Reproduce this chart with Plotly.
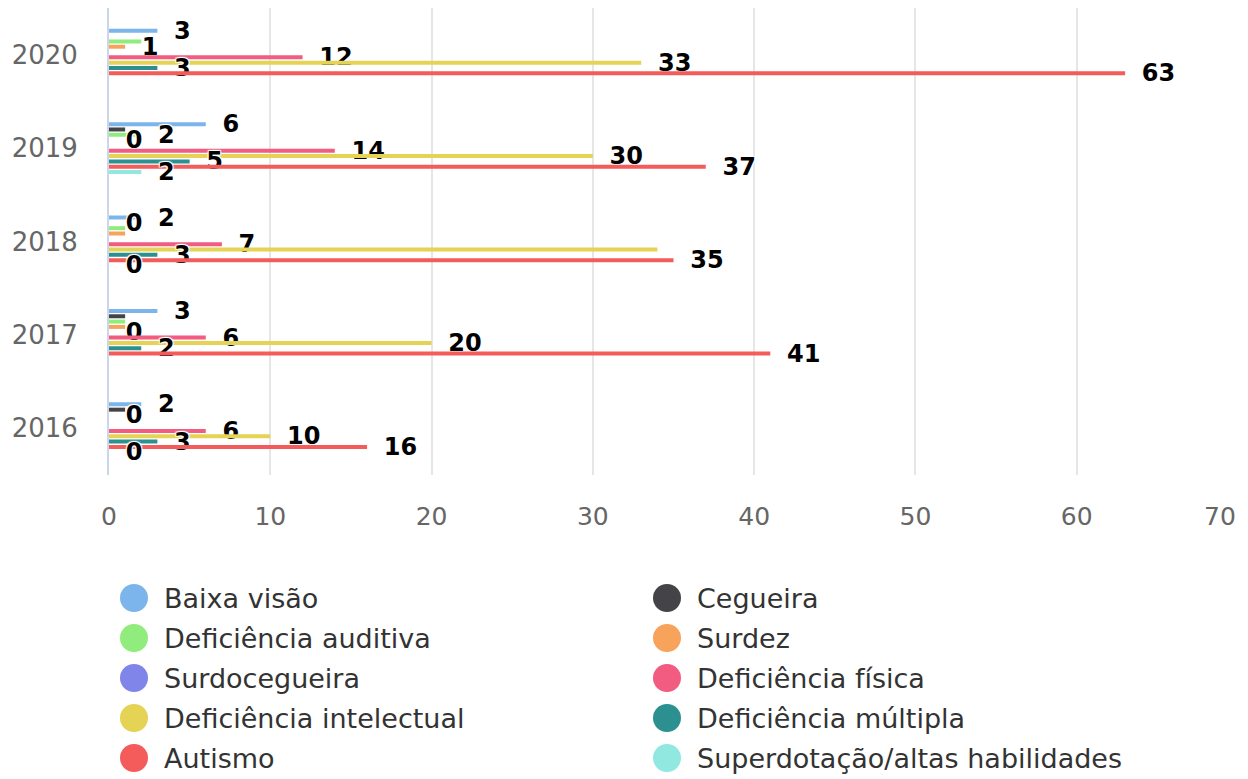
import plotly.graph_objects as go

years = ["2020", "2019", "2018", "2017", "2016"]

series_names = [
    "Baixa visão", "Cegueira", "Deficiência auditiva", "Surdez", "Surdocegueira",
    "Deficiência física", "Deficiência intelectual", "Deficiência múltipla",
    "Autismo", "Superdotação/altas habilidades",
]

# values per year (2020, 2019, 2018, 2017, 2016)
baixa_visao = [3, 6, 2, 3, 2]
cegueira = [0, 1, 0, 1, 1]
def_auditiva = [2, 2, 1, 1, 0]
surdez = [1, 0, 1, 1, 0]
surdocegueira = [0, 0, 0, 0, 0]
def_fisica = [12, 14, 7, 6, 6]
def_intelectual = [33, 30, 34, 20, 10]
def_multipla = [3, 5, 3, 2, 3]
autismo = [63, 37, 35, 41, 16]
superdotacao = [0, 2, 0, 0, 0]

values = [baixa_visao, cegueira, def_auditiva, surdez, surdocegueira,
          def_fisica, def_intelectual, def_multipla, autismo, superdotacao]

# which data labels remain visible (others hidden by overlap in the original)
label_shown = [
    [1, 1, 1, 1, 1],
    [0, 0, 1, 0, 0],
    [0, 1, 0, 0, 1],
    [1, 1, 0, 0, 0],
    [0, 0, 0, 1, 0],
    [1, 1, 1, 1, 1],
    [1, 1, 0, 1, 1],
    [1, 1, 1, 1, 1],
    [1, 1, 1, 1, 1],
    [0, 1, 1, 0, 1],
]

x_tick_values = [0, 10, 20, 30, 40, 50, 60, 70]
x_tick_labels = ["0", "10", "20", "30", "40", "50", "60", "70"]

colors = ["#7cb5ec", "#434348", "#90ed7d", "#f7a35c", "#8085e9",
          "#f15c80", "#e4d354", "#2b908f", "#f45b5b", "#91e8e1"]

FONT = "DejaVu Sans"
shadow = "1px 1px 1px #fff, -1px -1px 1px #fff, 1px -1px 1px #fff, -1px 1px 1px #fff"

W, H = 1240, 771
L, R, T, B = 101, 10, 0, 304
PW, PH = W - L - R, H - T - B

fig = go.Figure()
for name, vals, shown, col in zip(series_names, values, label_shown, colors):
    fig.add_trace(go.Bar(
        y=years, x=vals, orientation="h", name=name,
        marker=dict(color=col, line=dict(width=0)),
        text=[f"  {v}" if s else "" for v, s in zip(vals, shown)],
        textposition="outside", cliponaxis=False, constraintext="none",
        textfont=dict(family=FONT, size=24, color="#000000", weight="bold", shadow=shadow),
        showlegend=False, hoverinfo="x+name",
    ))

# empty helper trace so the overlay axis (last tick label, nudged inward) is drawn
fig.add_trace(go.Scatter(x=[None], y=[None], xaxis="x2", yaxis="y",
                         mode="markers", showlegend=False, hoverinfo="skip"))

# custom two-column legend (circles + text), laid out in pixels
shapes, annotations = [], []
col_circle_x = [126, 659]
col_text_x = [154, 687]
row_y = [590, 630, 670, 710, 750]
for i, (name, col) in enumerate(zip(series_names, colors)):
    c, r = i % 2, i // 2
    xp = (col_circle_x[c] - L) / PW
    yp = (H - B - row_y[r]) / PH
    shapes.append(dict(
        type="circle", xref="paper", yref="paper", xsizemode="pixel", ysizemode="pixel",
        xanchor=xp, yanchor=yp, x0=-14, x1=14, y0=-14, y1=14,
        fillcolor=col, line=dict(width=0),
    ))
    annotations.append(dict(
        text=name, xref="paper", yref="paper",
        x=(col_text_x[c] - L) / PW, y=yp, xanchor="left", yanchor="middle",
        showarrow=False, font=dict(family=FONT, size=27, color="#333333"),
    ))

tickfont = dict(size=25, color="#666666", family=FONT)

fig.update_layout(
    width=W, height=H,
    margin=dict(l=L, r=R, t=T, b=B, autoexpand=False),
    paper_bgcolor="white", plot_bgcolor="white",
    barmode="group", bargap=0.43, bargroupgap=0.25,
    font=dict(family=FONT, color="#666666"),
    showlegend=False,
    shapes=shapes, annotations=annotations,
    xaxis=dict(
        range=[0, 70], tickmode="array", tickvals=x_tick_values,
        ticktext=x_tick_labels[:-1] + [""],
        showgrid=True, gridcolor="#e6e6e6", gridwidth=2,
        zeroline=False, showline=False, ticks="", automargin=False,
        tickfont=tickfont, ticklabelstandoff=24,
    ),
    xaxis2=dict(
        overlaying="x", anchor="y", side="bottom", range=[0, 70],
        tickmode="array", tickvals=x_tick_values[-1:], ticktext=x_tick_labels[-1:],
        ticklabelshift=-18, ticklabeloverflow="allow",
        showgrid=False, zeroline=False, showline=False, ticks="", automargin=False,
        tickfont=tickfont, ticklabelstandoff=24,
    ),
    yaxis=dict(
        type="category", autorange="reversed", showgrid=False, zeroline=False,
        showline=True, linecolor="#ccd6eb", linewidth=2, ticks="", automargin=False,
        tickfont=dict(size=26, color="#666666"), ticklabelstandoff=24,
    ),
)

fig.write_html("out.html")
